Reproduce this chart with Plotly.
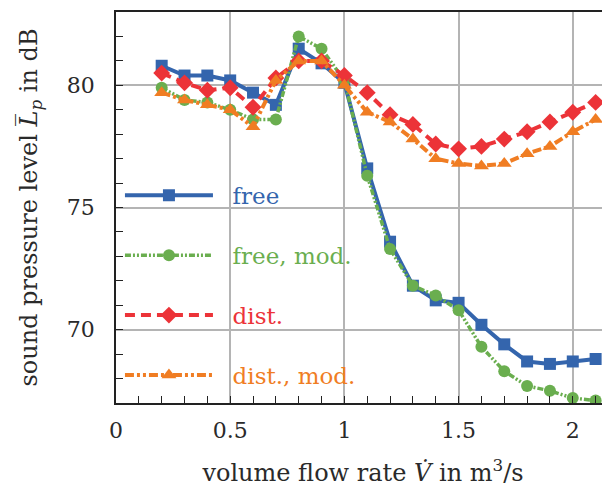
import plotly.graph_objects as go

flow = [0.2, 0.3, 0.4, 0.5, 0.6, 0.7, 0.8, 0.9, 1.0, 1.1,
        1.2, 1.3, 1.4, 1.5, 1.6, 1.7, 1.8, 1.9, 2.0, 2.1]

free = [80.8, 80.4, 80.4, 80.2, 79.7, 79.2, 81.5, 80.9, 80.1, 76.6,
        73.6, 71.8, 71.2, 71.1, 70.2, 69.4, 68.7, 68.6, 68.7, 68.8]
free_mod = [79.9, 79.4, 79.3, 79.0, 78.6, 78.6, 82.0, 81.5, 80.2, 76.3,
            73.3, 71.8, 71.4, 70.8, 69.3, 68.3, 67.7, 67.5, 67.2, 67.1]
dist = [80.5, 80.1, 79.8, 79.9, 79.1, 80.3, 81.0, 81.0, 80.4, 79.7,
        78.8, 78.4, 77.6, 77.4, 77.5, 77.8, 78.1, 78.5, 78.9, 79.3]
dist_mod = [79.7, 79.4, 79.2, 79.0, 78.3, 80.2, 81.0, 81.0, 80.0, 78.9,
            78.5, 77.8, 77.0, 76.8, 76.7, 76.8, 77.2, 77.5, 78.1, 78.6]

names = ["free", "free, mod.", "dist.", "dist., mod."]
colors = ["#3465ad", "#6aae4f", "#ec3338", "#f07d23"]
symbols = ["square", "circle", "diamond", "triangle-up"]
sizes = [12, 12, 13, 13]
dashes = ["solid", "6px,2px,2px,2px,2px,2px", "10px,6px", "9px,3px,3px,3px,3px,3px"]
widths = [4, 3.5, 4, 4]
series = [free, free_mod, dist, dist_mod]

FONT = "DejaVu Serif"

fig = go.Figure()
for i, (nm, ys) in enumerate(zip(names, series)):
    fig.add_trace(go.Scatter(
        x=flow, y=ys, mode="lines+markers",
        name='<span style="color:%s">\u00a0\u00a0%s</span>' % (colors[i], nm),
        legendgroup=str(i),
        line=dict(color=colors[i], width=widths[i], dash=dashes[i]),
        marker=dict(symbol=symbols[i], size=sizes[i], color=colors[i]),
    ))

axis_common = dict(
    showline=True, linecolor="#222222", linewidth=1.5,
    showgrid=True, gridcolor="#b4b4b4", gridwidth=1.5,
    zeroline=False, automargin=False,
    ticks="inside", ticklen=7, tickcolor="#222222", tickwidth=1.2,
    tickfont=dict(family=FONT, size=22, color="#2a2a2a"),
)

# the page body has an 8px default margin; the figure is sized to fill the rest
fig.update_layout(
    width=602, height=482,
    margin=dict(l=108, r=0, t=4, b=87),
    paper_bgcolor="white", plot_bgcolor="white",
    font=dict(family=FONT, color="#2a2a2a"),
    showlegend=True,
    legend=dict(
        x=0.008, y=0.586, xanchor="left", yanchor="top",
        bgcolor="rgba(0,0,0,0)", borderwidth=0,
        itemwidth=88, tracegroupgap=27,
        font=dict(family=FONT, size=23),
    ),
    xaxis=dict(
        range=[0, 2.163], dtick=0.5, tick0=0,
        mirror=True,
        minor=dict(dtick=0.1, ticks="inside", ticklen=7, tickcolor="#222222", showgrid=False),
        ticklabelstandoff=7,
        title=dict(text="volume flow rate <i>V\u0307</i> in m<sup>3</sup>/s",
                   font=dict(family=FONT, size=24), standoff=22),
        **axis_common,
    ),
    yaxis=dict(
        range=[67, 83], dtick=5, tick0=0,
        minor=dict(dtick=1, ticks="inside", ticklen=7, tickcolor="#222222", showgrid=False),
        ticklabelstandoff=15,
        title=dict(text="sound pressure level <i>L\u0305</i><sub><i>p</i></sub> in dB",
                   font=dict(family=FONT, size=24), standoff=22),
        **axis_common,
    ),
)

fig.write_html("out.html")
